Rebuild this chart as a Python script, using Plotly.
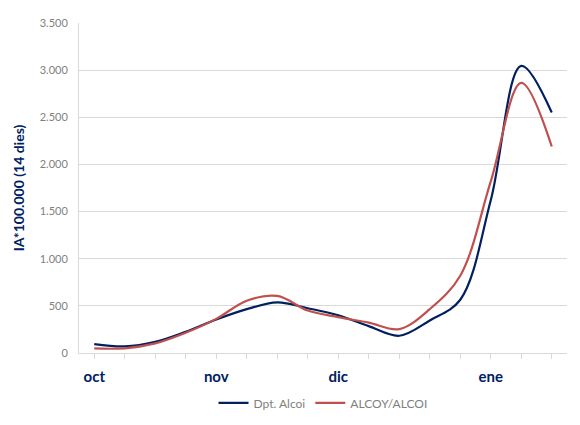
import plotly.graph_objects as go

# weekly points, oct -> ene
weeks = list(range(16))
dpt_alcoi = [95, 70, 118, 225, 355, 465, 537, 475, 400, 285, 183, 345, 565, 1620, 3045, 2550]
alcoy_alcoi = [48, 50, 102, 215, 362, 555, 605, 450, 380, 322, 254, 465, 820, 1820, 2865, 2190]

month_ticks = {0: "oct", 4: "nov", 8: "dic", 13: "ene"}
tick_text = [month_ticks.get(w, "") for w in weeks]

y_ticks = [0, 500, 1000, 1500, 2000, 2500, 3000, 3500]

NAVY = "#002060"
RED = "#C0504D"
GRID = "#d9d9d9"

fig = go.Figure()
fig.add_trace(go.Scatter(
    x=weeks, y=dpt_alcoi, name="Dpt. Alcoi", mode="lines",
    line=dict(color=NAVY, width=2.2, shape="spline", smoothing=1),
))
fig.add_trace(go.Scatter(
    x=weeks, y=alcoy_alcoi, name="ALCOY/ALCOI", mode="lines",
    line=dict(color=RED, width=2.2, shape="spline", smoothing=1),
))

# page body has an 8px margin, so the figure is a bit smaller than the window
fig.update_layout(
    width=572, height=417,
    paper_bgcolor="white", plot_bgcolor="white",
    margin=dict(l=71, r=13, t=15, b=72),
    separators=",.",
    font=dict(family="Lato, sans-serif", size=11, color="#7f7f7f"),
    showlegend=True,
    legend=dict(
        orientation="h", x=0.5, xanchor="center",
        yref="container", y=0.053, yanchor="middle",
        font=dict(size=12, color="#7f7f7f"),
    ),
    xaxis=dict(
        range=[-0.5, 15.5],
        tickvals=weeks, ticktext=tick_text,
        ticks="outside", ticklen=5, tickcolor=GRID,
        showline=True, linecolor=GRID, linewidth=1,
        showgrid=False, zeroline=False, automargin=False,
        tickfont=dict(size=15, color=NAVY, family="Lato, sans-serif", weight="bold"),
        ticklabelstandoff=5,
    ),
    yaxis=dict(
        range=[0, 3500],
        tickvals=y_ticks, tickformat=",d",
        showgrid=True, gridcolor=GRID, gridwidth=1,
        showline=True, linecolor=GRID,
        zeroline=False, automargin=False,
        ticks="", ticklabelstandoff=8,
        tickfont=dict(size=11, color="#7f7f7f"),
        title=dict(
            text="<b>IA*100.000 (14 dies)</b>",
            font=dict(size=14, color=NAVY),
            standoff=11,
        ),
    ),
)

fig.write_html("out.html")
